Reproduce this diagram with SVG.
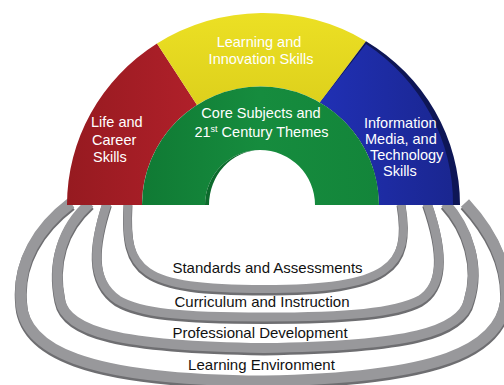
<svg xmlns="http://www.w3.org/2000/svg" width="504" height="385" viewBox="0 0 504 385">
<defs>
<linearGradient id="gRed" x1="0" y1="0" x2="1" y2="0"><stop offset="0" stop-color="#961a20"/><stop offset="1" stop-color="#b0202a"/></linearGradient>
<linearGradient id="gYel" x1="0" y1="0" x2="0" y2="1"><stop offset="0" stop-color="#ece024"/><stop offset="1" stop-color="#ddd01c"/></linearGradient>
<linearGradient id="gGrn" x1="0" y1="0" x2="1" y2="0"><stop offset="0" stop-color="#107a34"/><stop offset="0.5" stop-color="#168c3e"/><stop offset="1" stop-color="#13853a"/></linearGradient>
<linearGradient id="gBlu" x1="0" y1="0" x2="1" y2="0"><stop offset="0" stop-color="#2030b4"/><stop offset="1" stop-color="#1a2690"/></linearGradient>
</defs>
<style>
.ring-sh{fill:none;stroke:#6e6e71;}
.ring{fill:none;stroke:#98989b;}
.w{font-family:"Liberation Sans",Arial,sans-serif;font-size:14.5px;fill:#ffffff;}
.b{font-family:"Liberation Sans",Arial,sans-serif;font-size:15px;fill:#111111;text-anchor:middle;}
</style>
<g id="connectors"></g>
<g id="rings">
<g id="ring4">
<path class="ring-sh" stroke-width="12" transform="translate(0,2)" d="M71,203 C38,228 18,262 21,300 C22,350 85,380 264,381 C438,378 500,350 506,300 C508,262 490,230 465,203"/>
<path class="ring" stroke-width="11" d="M71,203 C38,228 18,262 21,300 C22,350 85,380 264,381 C438,378 500,350 506,300 C508,262 490,230 465,203"/>
</g>
<g id="ring3">
<path class="ring-sh" stroke-width="11" transform="translate(0,2)" d="M90,203 C62,228 52,262 60,300 C66,332 120,346 264,348 C408,346 462,332 469,300 C480,265 468,228 445,203"/>
<path class="ring" stroke-width="10" d="M90,203 C62,228 52,262 60,300 C66,332 120,346 264,348 C408,346 462,332 469,300 C480,265 468,228 445,203"/>
</g>
<g id="ring2">
<path class="ring-sh" stroke-width="10" transform="translate(0,2)" d="M107,203 C95,240 88,280 118,300 C140,313 180,317 264,317 C348,317 395,313 420,300 C448,283 440,240 427,203"/>
<path class="ring" stroke-width="9" d="M107,203 C95,240 88,280 118,300 C140,313 180,317 264,317 C348,317 395,313 420,300 C448,283 440,240 427,203"/>
</g>
<g id="ring1">
<path class="ring-sh" stroke-width="9" transform="translate(0,2)" d="M128,203 C124,272 140,289 264,289 C388,289 412,268 401,203"/>
<path class="ring" stroke-width="8" d="M128,203 C124,272 140,289 264,289 C388,289 412,268 401,203"/>
</g>
</g>
<g id="life-career">
<path fill="url(#gRed)" d="M67,205 A196.5,192 0 0 1 157,43.6 L197,105 A118.5,118.5 0 0 0 142,205 Z"/>
<text class="w" x="91" y="127">Life and</text>
<text class="w" x="92" y="145">Career</text>
<text class="w" x="93" y="162">Skills</text>
</g>
<g id="learning-innovation">
<path fill="url(#gYel)" d="M157,43.6 A196.5,192 0 0 1 366,41.2 L320,102.5 A118.5,118.5 0 0 0 197,105 Z"/>
<text class="w" x="259" y="47" text-anchor="middle" font-size="15">Learning and</text>
<text class="w" x="261" y="64" text-anchor="middle" font-size="15">Innovation Skills</text>
</g>
<g id="info-media-tech">
<path fill="#0e1656" d="M366,41.2 A196.5,192 0 0 1 460,205 L379,205 A118.5,118.5 0 0 0 320,102.5 Z"/>
<path fill="url(#gBlu)" d="M366,44 A196.5,192 0 0 1 453,205 L379,205 A118.5,118.5 0 0 0 320,102.5 Z"/>
<text class="w" x="364" y="128">Information</text>
<text class="w" x="365" y="144">Media, and</text>
<text class="w" x="370" y="160">Technology</text>
<text class="w" x="383" y="176">Skills</text>
</g>
<g id="core-subjects">
<path fill="url(#gGrn)" d="M142,205 A118.5,118.5 0 0 1 379,205 L315,205 A55,55 0 0 0 205,205 Z"/>
<path fill="#0c6a2c" d="M205,205 A55,55 0 0 1 260,150 A52,55 0 0 0 209,205 Z"/>
<text class="w" x="261" y="118" text-anchor="middle" font-size="15">Core Subjects and</text>
<text class="w" x="261.5" y="137" text-anchor="middle" font-size="15">21<tspan font-size="9" baseline-shift="super">st</tspan> Century Themes</text>
</g>
<g id="labels">
<text class="b" x="267.5" y="273">Standards and Assessments</text>
<text class="b" x="262" y="307">Curriculum and Instruction</text>
<text class="b" x="260" y="338">Professional Development</text>
<text class="b" x="261.5" y="370">Learning Environment</text>
</g>
</svg>
